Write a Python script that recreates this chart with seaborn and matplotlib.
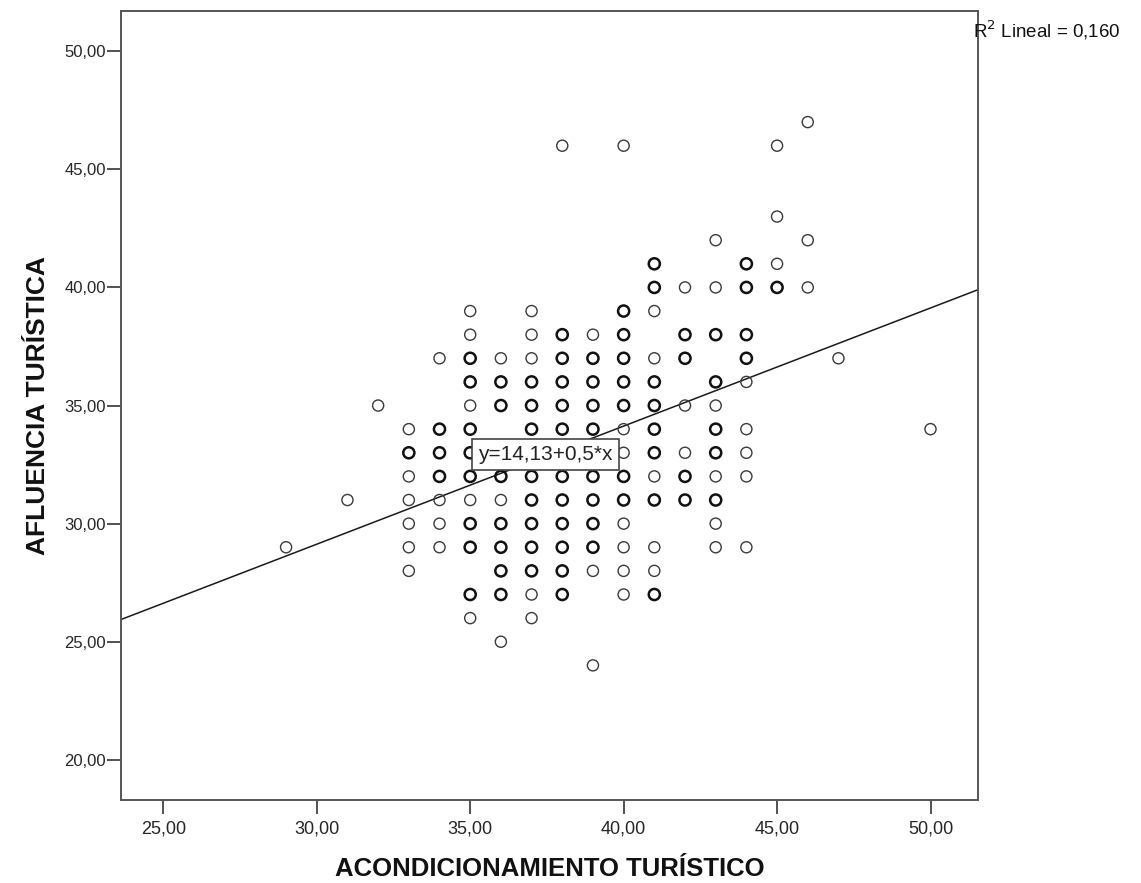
import numpy as np
import pandas as pd
import matplotlib
matplotlib.use("Agg")
import matplotlib.pyplot as plt
from matplotlib import font_manager
from matplotlib.ticker import FuncFormatter
import seaborn as sns

# Observed cases: condition score (x), tourist influx score (y), number of cases at that spot
acond = [29, 31, 32,
         33, 33, 33, 33, 33, 33, 33,
         34, 34, 34, 34, 34, 34, 34,
         35, 35, 35, 35, 35, 35, 35, 35, 35, 35, 35, 35, 35,
         36, 36, 36, 36, 36, 36, 36, 36, 36, 36, 36,
         37, 37, 37, 37, 37, 37, 37, 37, 37, 37, 37, 37, 37, 37,
         38, 38, 38, 38, 38, 38, 38, 38, 38, 38, 38, 38, 38,
         39, 39, 39, 39, 39, 39, 39, 39, 39, 39, 39, 39,
         40, 40, 40, 40, 40, 40, 40, 40, 40, 40, 40, 40, 40, 40,
         41, 41, 41, 41, 41, 41, 41, 41, 41, 41, 41, 41, 41,
         42, 42, 42, 42, 42, 42, 42,
         43, 43, 43, 43, 43, 43, 43, 43, 43, 43, 43,
         44, 44, 44, 44, 44, 44, 44, 44, 44,
         45, 45, 45, 45,
         46, 46, 46,
         47, 50]
aflu = [29, 31, 35,
        34, 33, 32, 31, 30, 29, 28,
        37, 34, 33, 32, 31, 30, 29,
        39, 38, 37, 36, 35, 34, 33, 32, 31, 30, 29, 27, 26,
        37, 36, 35, 33, 32, 31, 30, 29, 28, 27, 25,
        39, 38, 37, 36, 35, 34, 33, 32, 31, 30, 29, 28, 27, 26,
        46, 38, 37, 36, 35, 34, 33, 32, 31, 30, 29, 28, 27,
        38, 37, 36, 35, 34, 33, 32, 31, 30, 29, 28, 24,
        46, 39, 38, 37, 36, 35, 34, 33, 32, 31, 30, 29, 28, 27,
        41, 40, 39, 37, 36, 35, 34, 33, 32, 31, 29, 28, 27,
        40, 38, 37, 35, 33, 32, 31,
        42, 40, 38, 36, 35, 34, 33, 32, 31, 30, 29,
        41, 40, 38, 37, 36, 34, 33, 32, 29,
        46, 43, 41, 40,
        47, 42, 40,
        37, 34]
casos = [1, 1, 1,
         1, 2, 1, 1, 1, 1, 1,
         1, 2, 2, 2, 1, 1, 1,
         1, 1, 2, 2, 1, 2, 2, 2, 1, 2, 2, 2, 1,
         1, 2, 2, 1, 2, 1, 2, 2, 2, 2, 1,
         1, 1, 1, 2, 2, 2, 1, 2, 2, 2, 2, 2, 1, 1,
         1, 2, 2, 2, 2, 2, 1, 2, 2, 2, 2, 2, 2,
         1, 2, 2, 2, 2, 1, 2, 2, 2, 2, 1, 1,
         1, 2, 2, 2, 2, 2, 1, 1, 2, 2, 1, 1, 1, 1,
         2, 2, 1, 1, 2, 2, 2, 2, 1, 2, 1, 1, 2,
         1, 2, 2, 1, 1, 2, 2,
         1, 1, 2, 2, 1, 2, 2, 1, 2, 1, 1,
         2, 2, 2, 2, 1, 1, 1, 1, 1,
         1, 1, 1, 2,
         1, 1, 1,
         1, 1]

# Linear fit reported for the sample
intercepto = 14.13
pendiente = 0.5
r2 = 0.160

x_ticks = [25, 30, 35, 40, 45, 50]
y_ticks = [20, 25, 30, 35, 40, 45, 50]


def font_or(name, fallback):
    try:
        font_manager.findfont(name, fallback_to_default=False)
        return name
    except Exception:
        return fallback


base_font = font_or("Liberation Sans", "DejaVu Sans")

sns.set_theme(style="white")
plt.rcParams["font.family"] = [base_font, "DejaVu Sans"]

df = pd.DataFrame({"x": acond, "y": aflu, "n": casos})

fig = plt.figure(figsize=(11.41, 8.83), dpi=100)
ax = fig.add_axes([0.1063, 0.094, 0.7509, 0.894])

single = df[df["n"] == 1]
multi = df[df["n"] > 1]
sns.scatterplot(data=single, x="x", y="y", ax=ax, s=64, marker="o",
                facecolor="none", edgecolor="#3a3a3a", linewidth=1.0, zorder=3)
sns.scatterplot(data=multi, x="x", y="y", ax=ax, s=64, marker="o",
                facecolor="none", edgecolor="#111111", linewidth=1.8, zorder=3)

xmin, xmax = 23.63, 51.55
ymin, ymax = 18.3, 51.72
ax.set_xlim(xmin, xmax)
ax.set_ylim(ymin, ymax)

# Fitted line across the whole plotting region
xs = np.array([xmin, xmax])
ax.plot(xs, intercepto + pendiente * xs, color="#1a1a1a", linewidth=1.1, zorder=2)

ax.set_xticks(x_ticks)
ax.set_yticks(y_ticks)
fmt = FuncFormatter(lambda v, p: f"{v:.2f}".replace(".", ","))
ax.xaxis.set_major_formatter(fmt)
ax.yaxis.set_major_formatter(fmt)
ax.tick_params(axis="both", which="major", direction="out", length=10, width=1.2,
               color="#333333", left=True, bottom=True)
ax.tick_params(axis="y", labelsize=12, pad=1)
ax.tick_params(axis="x", labelsize=13, pad=5)

for sp in ax.spines.values():
    sp.set_color("#555555")
    sp.set_linewidth(1.4)

ax.set_xlabel("ACONDICIONAMIENTO TURÍSTICO", fontsize=18.5, fontweight="bold",
              labelpad=14, color="#111111")
ax.set_ylabel("AFLUENCIA TURÍSTICA", fontsize=19, fontweight="bold",
              labelpad=10, color="#111111")

eq = f"y={intercepto:.2f}+{pendiente:.1f}*x".replace(".", ",")
ax.text(37.45, 32.93, eq, fontsize=15, ha="center", va="center", zorder=5,
        color="#222222",
        bbox=dict(boxstyle="square,pad=0.3", facecolor="white",
                  edgecolor="#444444", linewidth=1.2))

fig.text(0.853, 0.958, f"R$^2$ Lineal = {r2:.3f}".replace(".", ","),
         fontsize=13.5, ha="left", va="baseline", color="#111111")

fig.savefig("out.png", dpi=100, facecolor="white")
